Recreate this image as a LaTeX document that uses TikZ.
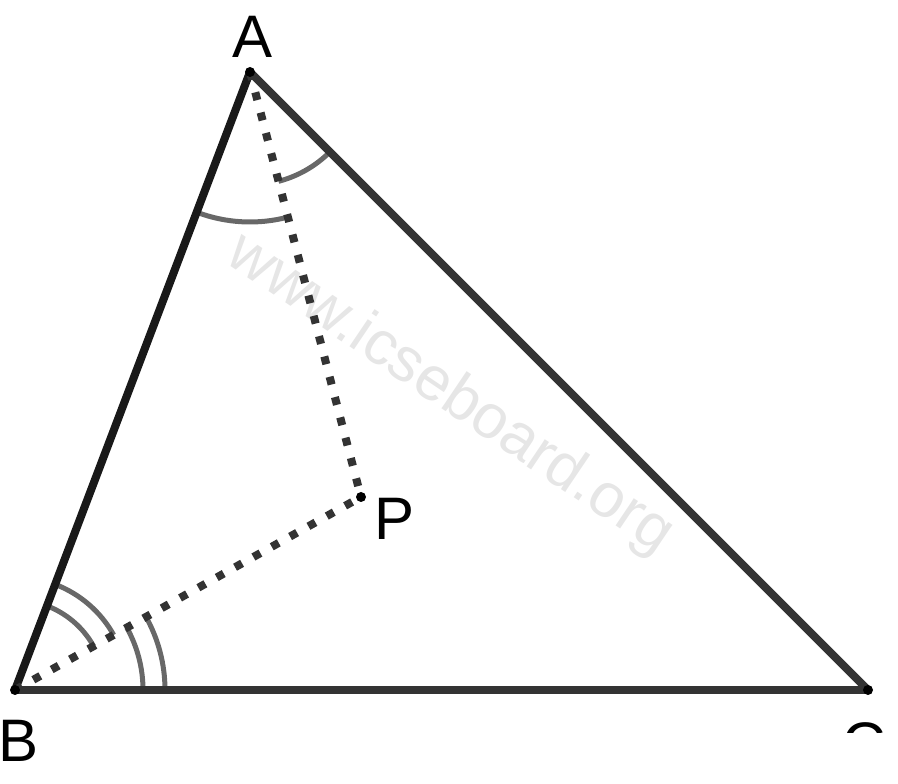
\documentclass[tikz,border=0pt]{standalone}
\usepackage{fontspec}
\setmainfont{Liberation Sans}
\usetikzlibrary{angles}
\definecolor{sidegray}{HTML}{333333}
\definecolor{markgray}{HTML}{686868}
\definecolor{wmgray}{HTML}{E6E6E6}
\tikzset{
    side/.style={
           draw=sidegray,
           line width=8pt,
           line cap=round,
           },
    dotline/.style={
           draw=sidegray,
           line width=8pt,
           dash pattern=on 8pt off 13pt,
           },
    anglemark/.style={
           draw=markgray,
           line width=5pt,
           },
    vertex/.style={
           circle,
           fill=black,
           inner sep=0pt,
           minimum size=10pt,
           },
    lbl/.style={
           font=\fontsize{60}{72}\selectfont,
           inner sep=0pt,
           },
}
\begin{document}
\begin{tikzpicture}[x=1pt,y=1pt]
 \useasboundingbox (0,0) rectangle (898,784);
 \coordinate (A) at (250,712);
 \coordinate (B) at (15,94);
 \coordinate (C) at (868,94);
 \coordinate (P) at (361,287);

 % watermark
 \node[font=\fontsize{62}{72}\selectfont,text=wmgray,rotate=-34] (WM)
   at (450,389) {www.icseboard.org};

 % angle marks
 \pic[anglemark,angle radius=150pt] {angle = B--A--P};
 \pic[anglemark,angle radius=113pt] {angle = P--A--C};
 \pic[anglemark,angle radius=90pt] {angle = P--B--A};
 \pic[anglemark,angle radius=113pt] {angle = P--B--A};
 \pic[anglemark,angle radius=128pt] {angle = C--B--P};
 \pic[anglemark,angle radius=150pt] {angle = C--B--P};

 % sides
 \draw[side,draw=black!90] (B) -- (A);
 \draw[side] (A) -- (C);
 \draw[side] (B) -- (C);
 \draw[dotline] (A) -- (P);
 \draw[dotline] (B) -- (P);

 \foreach \v in {A,B,C,P}
   \node[vertex] (dot\v) at (\v) {};

 % labels
 \node[lbl] (LA) at (253,747) {A};
 \node[lbl] (LP) at (395,265) {P};
 \node[lbl] (LB) at (19,43) {B};
 \begin{scope}
  \clip (800,51) rectangle (898,784);
  \node[lbl] (LC) at (864,40) {C};
 \end{scope}
\end{tikzpicture}
\end{document}
